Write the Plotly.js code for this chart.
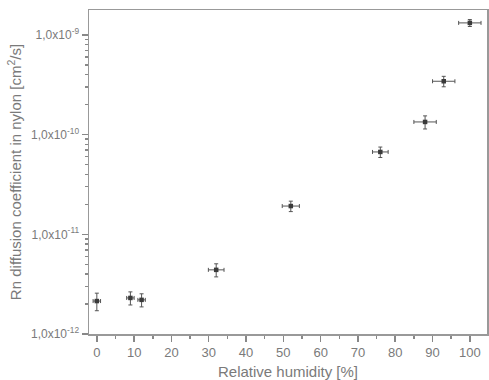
<!DOCTYPE html>
<html><head><meta charset="utf-8">
<script src="https://cdn.plot.ly/plotly-3.0.1.min.js"></script>
<style>body{margin:0;background:#fff}#c{width:489px;height:380px}</style>
</head><body><div id="c"></div>
<script>
const humidity = [0, 9, 12, 32, 52, 76, 88, 93, 100];
const diffusion = [2.14e-12, 2.3e-12, 2.2e-12, 4.4e-12, 1.92e-11, 6.7e-11, 1.34e-10, 3.43e-10, 1.32e-9];
const humidityErr = [1, 1, 1, 2.1, 2.3, 2.1, 3, 3, 3];
const diffusionErrPct = [20, 15, 15, 15, 12, 12, 15, 12, 8];
const yTickVals = [1e-12, 1e-11, 1e-10, 1e-9];
const yTickText = ['1,0x10<sup>-12</sup>', '1,0x10<sup>-11</sup>', '1,0x10<sup>-10</sup>', '1,0x10<sup>-9</sup>'];

const gray = '#7a7a7a';
const trace = {
  x: humidity, y: diffusion, type: 'scatter', mode: 'markers',
  marker: {symbol: 'square', size: 4.5, color: '#3a3a3a'},
  error_x: {type: 'data', array: humidityErr, color: '#555', thickness: 1, width: 2},
  error_y: {type: 'data', array: diffusion.map((v,i)=>v*diffusionErrPct[i]/100), color: '#555', thickness: 1, width: 2}
};
const layout = {
  width: 489, height: 380,
  margin: {l: 89, r: 2, t: 10, b: 46},
  paper_bgcolor: '#fff', plot_bgcolor: '#fff',
  font: {family: 'Liberation Sans, Arial, sans-serif', color: gray, size: 13},
  showlegend: false,
  xaxis: {
    range: [-2.1, 104.6], showgrid: false, zeroline: false,
    showline: true, linecolor: '#999', linewidth: 1.5, mirror: true,
    ticks: 'outside', ticklen: 6, tickcolor: '#888', tickwidth: 1.5,
    tickvals: [0,10,20,30,40,50,60,70,80,90,100],
    tickfont: {size: 13, color: gray},
    minor: {ticks: 'outside', ticklen: 3, dtick: 5, tick0: 0, tickcolor: '#888', showgrid: false},
    title: {text: 'Relative humidity [%]', font: {size: 15, color: gray}, standoff: 7}
  },
  yaxis: {
    type: 'log', range: [-12, -8.75], showgrid: false, zeroline: false,
    showline: true, linecolor: '#999', linewidth: 1.5, mirror: true,
    ticks: 'outside', ticklen: 6, tickcolor: '#888', tickwidth: 1.5,
    tickvals: yTickVals, ticktext: yTickText,
    tickfont: {size: 12, color: gray},
    minor: {ticks: 'outside', ticklen: 3, dtick: 'D1', tickcolor: '#888', showgrid: false},
    title: {text: 'Rn diffusion coefficient in nylon [cm<sup>2</sup>/s]', font: {size: 15, color: gray}, standoff: 5}
  }
};
Plotly.newPlot('c', [trace], layout, {displayModeBar: false, staticPlot: true});
</script></body></html>
